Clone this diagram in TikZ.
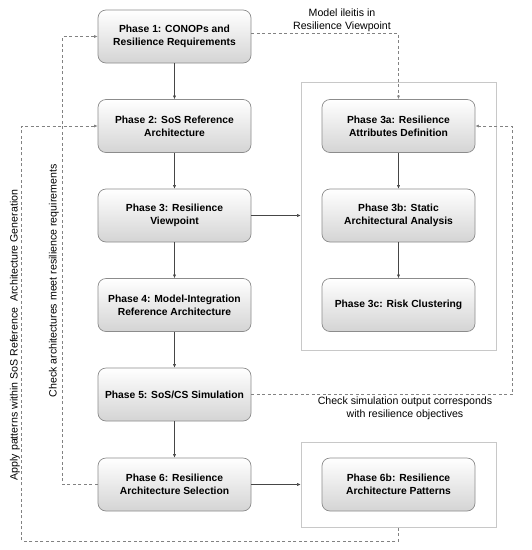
\documentclass[tikz,border=0pt]{standalone}
\usepackage{fontspec}
\setmainfont{Liberation Sans}
\usetikzlibrary{arrows.meta,positioning,calc}
\definecolor{boxborder}{RGB}{140,140,140}
\definecolor{boxbottom}{RGB}{212,212,212}
\definecolor{dashcol}{RGB}{130,130,130}
\definecolor{solidcol}{RGB}{70,70,70}
\definecolor{contcol}{RGB}{200,200,200}
\tikzset{
  phasebox/.style={draw=boxborder, line width=0.7pt, rounded corners=8pt,
    top color=white, bottom color=boxbottom, minimum width=153pt, minimum height=53pt,
    align=center, font=\fontsize{10.3}{13}\selectfont\bfseries, inner sep=2pt},
  container/.style={draw=contcol, line width=0.8pt, fill=white},
  flow/.style={draw=solidcol, line width=0.5pt, -{Latex[length=3.5pt,width=3pt]}},
  feedback/.style={draw=dashcol, line width=0.6pt, dash pattern=on 3pt off 2.5pt, -{Latex[length=3.5pt,width=3pt]}},
  lbl/.style={font=\fontsize{10.6}{12.7}\selectfont, align=center, text=black, inner sep=0pt}
}
\begin{document}
\begin{tikzpicture}[x=1pt,y=-1pt]
\useasboundingbox[fill=white] (0,0) rectangle (532,550);
% containers
\node[container, minimum width=195.3pt, minimum height=268pt, anchor=north west] (C1) at (300.7,82) {};
\node[container, minimum width=195.3pt, minimum height=85pt, anchor=north west] (C2) at (300.7,442) {};
% left column
\node[phasebox] (P1) at (174.5,36.5) {Phase 1: CONOPs and\\Resilience Requirements};
\node[phasebox] (P2) at (174.5,126) {Phase 2: SoS Reference\\Architecture};
\node[phasebox] (P3) at (174.5,215.5) {Phase 3: Resilience\\Viewpoint};
\node[phasebox] (P4) at (174.5,305) {Phase 4: Model-Integration\\Reference Architecture};
\node[phasebox] (P5) at (174.5,394.5) {Phase 5: SoS/CS Simulation};
\node[phasebox] (P6) at (174.5,484.5) {Phase 6: Resilience\\Architecture Selection};
% right column
\node[phasebox] (P3a) at (398.5,126) {Phase 3a: Resilience\\Attributes Definition};
\node[phasebox] (P3b) at (398.5,215.5) {Phase 3b: Static\\Architectural Analysis};
\node[phasebox] (P3c) at (398.5,305) {Phase 3c: Risk Clustering};
\node[phasebox] (P6b) at (398.5,484.5) {Phase 6b: Resilience\\Architecture Patterns};
% solid flow
\draw[flow] (P1) -- (P2);
\draw[flow] (P2) -- (P3);
\draw[flow] (P3) -- (P4);
\draw[flow] (P4) -- (P5);
\draw[flow] (P5) -- (P6);
\draw[flow] (P3a) -- (P3b);
\draw[flow] (P3b) -- (P3c);
\draw[flow] (P3.east) -- (P3.east -| C1.west);
\draw[flow] (P6.east) -- (P6.east -| C2.west);
% dashed feedback
\coordinate (m1) at ([yshift=3pt]P1.east);
\draw[feedback] (m1) -| (P3a.north);
\node[lbl] (L1) at (342,20) {Model ileitis in\\Resilience Viewpoint};

\coordinate (k1) at ([xshift=-35pt]P1.west);
\draw[feedback] (P6.west) -| (k1) -- (P1.west);
\node[lbl, rotate=90] (L2) at (54,281) {Check architectures meet resilience requirements};

\coordinate (a1) at ($(C2.south)+(0,13)$);
\coordinate (a2) at ([xshift=-76pt]P2.west);
\draw[feedback] (C2.south) -- (a1) -| (a2) -- (P2.west);
\node[lbl, rotate=90] (L3) at (15,335) {Apply patterns within SoS Reference\ \ Architecture Generation};

\coordinate (s1) at ([xshift=261pt]P5.east);
\draw[feedback] (P5.east) -- (s1) |- (P3a.east);
\node[lbl] (L4) at (405,408.5) {Check simulation output corresponds\\with resilience objectives};
\end{tikzpicture}
\end{document}
